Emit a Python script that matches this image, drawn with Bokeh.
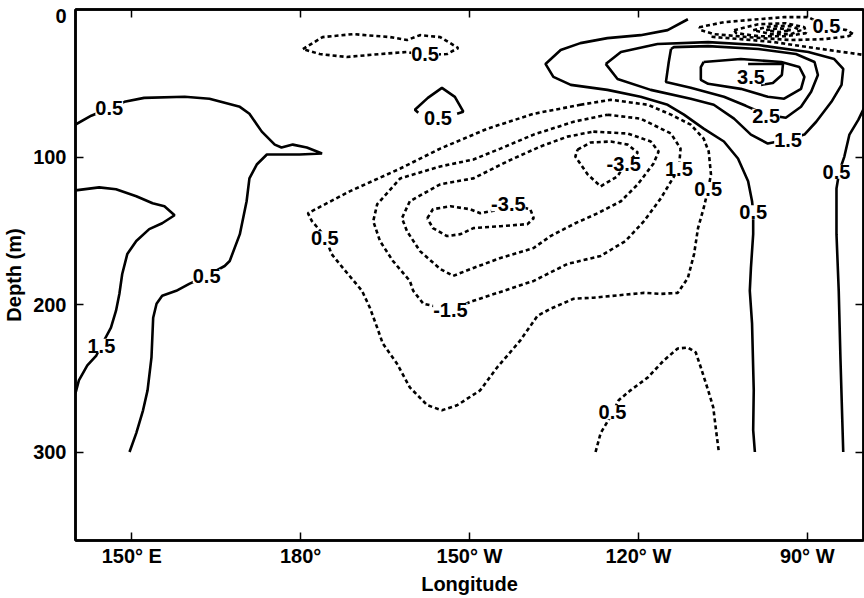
from bokeh.plotting import figure
from bokeh.models import Range1d, LinearAxis, FixedTicker, ColumnDataSource
from bokeh.core.properties import value
from bokeh.embed import file_html
from bokeh.resources import INLINE

# ---------------- axes ----------------
lon_ticks = [150, 180, 210, 240, 270]
lon_tick_labels = ["150° E", "180°", "150° W", "120° W", "90° W"]
depth_ticks = [100, 200, 300]
# the "0" label sits just under the frame top in the original figure
depth_label_pos = [4.7, 100, 200, 300]
depth_label_text = ["0", "100", "200", "300"]
x_title = "Longitude"
y_title = "Depth (m)"

# ---------------- contours (lon in deg E, depth in m) ----------------
# solid (positive) contours
west05_lon = [140, 142.8, 146.0, 148.7, 152.2, 159.4, 163.8, 169.2, 170.9, 173.1, 175.4, 176.6, 178.6, 181.1, 183.8,
              179.8, 174.0, 172.2, 170.9, 170.4, 169.2, 167.4, 166.5, 163.3, 160.2, 157.9, 155.4, 154.4, 153.8,
              153.5, 152.8, 152.0, 150.8, 149.6]
west05_dep = [78, 72, 67, 62.6, 59.9, 59.2, 60.5, 66, 70.7, 82.8, 91.6, 93.6, 91.6, 93.6, 97.6,
              98.3, 98.3, 105.1, 114.5, 130, 152.3, 170.5, 173.9, 180.6, 186, 190.7, 194.1, 199.5, 209,
              235.9, 258.2, 271.7, 287.2, 300]

west15_lon = [140, 144.2, 147.2, 150.8, 153.7, 155.8, 157.6, 155.4, 153.1, 150.8, 149.2, 148.3, 147.8, 147.2,
              146.3, 144.6, 143.7, 142.1, 140.6, 140]
west15_dep = [122.6, 120.6, 121.9, 126.6, 131.4, 133.4, 139.5, 144.9, 148.9, 157, 165.8, 179.3, 192.7, 204.2,
              215.7, 227.8, 234.6, 241.3, 251.4, 260.2]

cap05_lon = [200.9, 200.3, 202.6, 205.1, 207.4, 208.9, 207.8]
cap05_dep = [70, 68, 59.9, 53.1, 59.2, 69.3, 70.6]

east05_lon = [248.8, 245.2, 240.4, 234.5, 229.7, 226.2, 223.5, 224.9, 228.0, 234.5, 240.4, 245.2, 248.1, 251.6,
              255.2, 257.7, 259.5, 260.2, 260.4, 260.4, 260.0, 259.8, 260.2, 260.5, 260.4, 260.7]
east05_dep = [6.6, 14, 17.4, 19.4, 22.8, 27.5, 36.9, 45.7, 51.1, 54.5, 59.2, 64.6, 71.3, 80.8,
              89.5, 101, 116.5, 130, 137.4, 152.3, 175.2, 190.7, 213, 258.2, 285.2, 300]

east15_lon = [234.2, 236.9, 243.4, 252.4, 261.3, 270.2, 274.8, 276.4, 276.1, 274.3, 271.6, 269.5, 266.6, 263.0,
              260.0, 257.0, 253.4, 249.3, 242.2, 236.3, 234.2]
east15_dep = [36.9, 28.8, 23.4, 22.1, 24.1, 28.8, 33.6, 40.3, 51.1, 62.6, 76.1, 84.8, 88.2, 90.9,
              84.8, 74, 64.6, 60.5, 54.5, 47.1, 36.9]

east25_lon = [245.8, 245.4, 244.9, 249.3, 255.2, 259.1, 262.7, 266.2, 268.9, 270.7, 271.9, 271.3, 268.0, 261.3,
              252.4, 246.3, 245.8]
east25_dep = [26.8, 35.6, 49.1, 53.1, 59.2, 65.3, 71.3, 73.4, 65.9, 55.8, 44.4, 35.6, 30.2, 26.8,
              24.8, 25.5, 26.8]

east30_lon = [251.6, 258.2, 265.4, 268.6, 269.5, 268.9, 265.9, 263.0, 258.2, 252.4, 251.1, 251.1, 251.6]
east30_dep = [35.6, 33.6, 35.6, 39, 45.7, 53.8, 60.5, 59.2, 53.8, 50.4, 47.7, 39, 35.6]

east35_lon = [259.5, 265.7, 265.5, 263.9, 261.8]
east35_dep = [36.9, 36.9, 44.4, 49.8, 51.1]

far05_lon = [280.2, 279.1, 277.5, 276.6, 275.7, 275.2, 275.2, 275.6, 275.9, 276.4]
far05_dep = [66, 74.7, 84.8, 99.7, 109.8, 121.3, 152.3, 190.7, 235.9, 300]

# dashed (negative) contours
top05_lon = [180.4, 183.9, 189.3, 195.9, 198.9, 201.2, 204.8, 208.0, 206.0, 201.8, 198.9, 194.1, 188.2, 183.4, 180.4]
top05_dep = [26.8, 18.7, 16.7, 18.7, 20.7, 17.4, 18.7, 26.1, 30.2, 30.9, 28.8, 30.2, 32.2, 30.2, 26.8]

mid05_lon = [229.7, 235.1, 241.7, 245.8, 249.3, 251.6, 252.5, 252.9, 252.4, 251.6, 250.6, 249.9, 248.8, 247.0,
             244.0, 241.0, 232.0, 228.5, 224.4, 222.1, 219.0, 214.9, 211.9, 207.8, 205.1, 202.5, 199.4, 197.1,
             194.6, 193.6, 192.3, 190.9, 187.5, 185.5, 184.3, 182.0, 181.3, 188.7, 197.7, 204.8, 213.2, 221.4, 229.7]
mid05_dep = [64.6, 61.2, 64.6, 71.3, 78.1, 87.5, 96.3, 111.8, 121.9, 134.7, 148.2, 165.8, 182, 192.1,
             192.8, 192.1, 195.4, 196.1, 202.9, 207.6, 224.5, 242.7, 258.2, 268.3, 271.7, 268.3, 256.2, 240,
             226.5, 215.7, 202.2, 190.7, 175.2, 165.8, 153.6, 143.5, 138.1, 123.3, 107.8, 94.3, 80.8, 70.7, 64.6]

mid15_lon = [234.5, 240.4, 245.8, 247.5, 247.2, 245.8, 244.0, 241.0, 237.7, 233.3, 227.4, 221.4, 215.0, 210.7,
             206.6, 201.8, 200.0, 199.4, 196.4, 194.1, 192.9, 193.6, 197.7, 204.8, 210.7, 215.5, 221.4, 228.5, 234.5]
mid15_dep = [71.3, 74, 84.1, 94.3, 107.8, 116.5, 128, 143.5, 157, 167.1, 172.5, 184, 192.1, 197.5,
             203.5, 199.5, 190.7, 184, 170.5, 157, 143.5, 132, 114.5, 106.4, 101.7, 94.3, 84.8, 76.1, 71.3]

mid25_lon = [232.0, 238.1, 242.2, 243.6, 242.7, 239.9, 236.9, 232.8, 228.8, 224.4, 221.4, 215.5, 210.7, 207.1,
             204.8, 201.2, 198.9, 198.0, 199.4, 204.8, 210.7, 216.7, 222.6, 227.4, 232.0]
mid25_dep = [82.8, 84.1, 89.5, 96.3, 104.4, 118.5, 130, 138.1, 144.9, 153.6, 161.7, 168.5, 175.2, 180.6,
             175.9, 163.8, 150.3, 141.5, 130, 118.5, 114.5, 103, 92.9, 86.2, 82.8]

minW35_lon = [202.5, 203.5, 206.6, 210.1, 211.9, 214.6, 217.3, 220.8, 221.4, 220.3, 215.5, 210.7, 208.4, 206.0, 203.5, 202.5]
minW35_dep = [141.5, 135.4, 133.4, 135.4, 138.1, 136.1, 132, 135.4, 141.5, 145.5, 146.9, 148.2, 152.3, 153.6, 148.2, 141.5]

minE35_lon = [229.2, 231.5, 235.1, 238.1, 239.9, 237.4, 236.3, 233.3, 231.0, 228.8, 229.2]
minE35_dep = [95, 90.2, 89.5, 91.6, 97, 106.4, 113.1, 119.9, 111.8, 99.7, 95]

surf05_lon = [250.8, 255.2, 261.3, 265.9, 270.2, 273.4, 277.0, 278.2, 277.3, 273.0, 267.1, 259.5, 253.4, 251.1, 250.8]
surf05_dep = [12, 8.6, 6.6, 5.2, 5.2, 11.3, 14, 16.7, 18.1, 20.1, 20.7, 18.7, 16.7, 14, 12]

surf15_lon = [257.0, 261.3, 266.2, 269.5, 269.8, 266.2, 261.3, 257.4, 257.0]
surf15_dep = [14, 10, 9.3, 12, 16, 18.1, 18.1, 16, 14]

surf25_lon = [260.4, 263.6, 267.1, 268.9, 267.1, 263.6, 260.4]
surf25_dep = [14, 11.3, 11.3, 14, 16.7, 16.7, 14]

surf35_lon = [262.7, 265.0, 267.1, 265.0, 262.7]
surf35_dep = [14, 12.7, 14, 15.3, 14]

surfB_lon = [253.0, 258.2, 264.1, 270.2, 275.2, 280.2]
surfB_dep = [18.5, 20.1, 22.1, 25.5, 28.2, 30.9]

deep05_lon = [232.4, 233.3, 235.4, 236.5, 238.6, 241.7, 244.5, 247.0, 248.8, 250.2, 251.1, 252.4, 253.3, 253.8, 254.3]
deep05_dep = [300, 287.2, 273.7, 264.9, 258.2, 249.4, 238, 229.8, 229.2, 232.5, 242.7, 258.2, 269.6, 285.2, 300]

# contour labels
label_text = ["0.5", "0.5", "1.5", "0.5", "0.5", "0.5", "0.5", "-1.5", "1.5", "-3.5", "-3.5",
              "0.5", "1.5", "2.5", "3.5", "0.5", "0.5", "0.5"]
label_lon = [146.0, 163.3, 144.6, 202.1, 204.4, 184.3, 252.4, 206.6, 247.2, 216.9, 237.4,
             260.4, 266.6, 262.7, 260.0, 273.4, 275.2, 235.4]
label_dep = [67, 180.6, 228, 30.5, 73.4, 155, 122, 203.5, 108, 132, 105,
             137.4, 88.2, 72, 46, 11.5, 110, 273]

solid_lons = [west05_lon, west15_lon, cap05_lon, east05_lon, east15_lon, east25_lon, east30_lon, east35_lon, far05_lon]
solid_deps = [west05_dep, west15_dep, cap05_dep, east05_dep, east15_dep, east25_dep, east30_dep, east35_dep, far05_dep]
dash_lons = [top05_lon, mid05_lon, mid15_lon, mid25_lon, minW35_lon, minE35_lon,
             surf05_lon, surf15_lon, surf25_lon, surf35_lon, surfB_lon, deep05_lon]
dash_deps = [top05_dep, mid05_dep, mid15_dep, mid25_dep, minW35_dep, minE35_dep,
             surf05_dep, surf15_dep, surf25_dep, surf35_dep, surfB_dep, deep05_dep]

FONT = "Liberation Sans"
FS = "20px"

p = figure(width=864, height=598, output_backend="svg", toolbar_location=None,
           x_range=Range1d(140, 280), y_range=Range1d(360, 0),
           min_border_left=75, min_border_right=1, min_border_top=9, min_border_bottom=58)
p.xgrid.visible = False
p.ygrid.visible = False
p.background_fill_color = "white"
p.border_fill_color = "white"
p.outline_line_color = "black"
p.outline_line_width = 2.5

p.multi_line(xs=solid_lons, ys=solid_deps, line_color="black", line_width=2.6)
p.multi_line(xs=dash_lons, ys=dash_deps, line_color="black", line_width=2.6, line_dash="4 3")

src = ColumnDataSource(dict(x=label_lon, y=label_dep, t=label_text))
p.text(x="x", y="y", text="t", source=src, text_align="center", text_baseline="middle",
       text_font=value(FONT), text_font_style="bold", text_font_size=FS, text_color="black",
       background_fill_color="white")


def style_axis(ax, show_labels):
    ax.axis_line_width = 2.5
    ax.axis_line_color = "black"
    ax.major_tick_in = 8
    ax.major_tick_out = 0
    ax.major_tick_line_width = 1.5
    ax.minor_tick_line_color = None
    ax.major_label_text_font = FONT
    ax.major_label_text_font_style = "bold"
    ax.axis_label_text_font = FONT
    ax.axis_label_text_font_style = "bold"
    ax.axis_label_text_color = "black"
    ax.axis_label_text_font_size = FS
    if show_labels:
        ax.major_label_text_font_size = FS
        ax.major_label_text_color = "black"
    else:
        ax.major_label_text_font_size = "1px"
        ax.major_label_text_color = None
        ax.major_label_standoff = 0


# bottom axis
xa = p.xaxis[0]
xa.ticker = FixedTicker(ticks=lon_ticks)
xa.major_label_overrides = {t: l for t, l in zip(lon_ticks, lon_tick_labels)}
xa.axis_label = x_title
style_axis(xa, True)
xa.major_label_standoff = 4
xa.axis_label_standoff = 3

# left axis: tick marks only (next to the frame)
ya = p.yaxis[0]
ya.ticker = FixedTicker(ticks=depth_ticks)
style_axis(ya, False)

# left axis: labels and title
ylab = LinearAxis(ticker=FixedTicker(ticks=depth_label_pos), axis_label=y_title)
style_axis(ylab, True)
ylab.major_label_overrides = {t: l for t, l in zip(depth_label_pos, depth_label_text)}
ylab.axis_line_color = None
ylab.major_tick_line_color = None
ylab.major_label_standoff = 9
ylab.axis_label_standoff = 5
p.add_layout(ylab, "left")

# mirrored ticks on top and right
top = LinearAxis(ticker=FixedTicker(ticks=lon_ticks))
style_axis(top, False)
p.add_layout(top, "above")
right = LinearAxis(ticker=FixedTicker(ticks=depth_ticks))
style_axis(right, False)
p.add_layout(right, "right")

open("out.html", "w").write(file_html(p, INLINE))
